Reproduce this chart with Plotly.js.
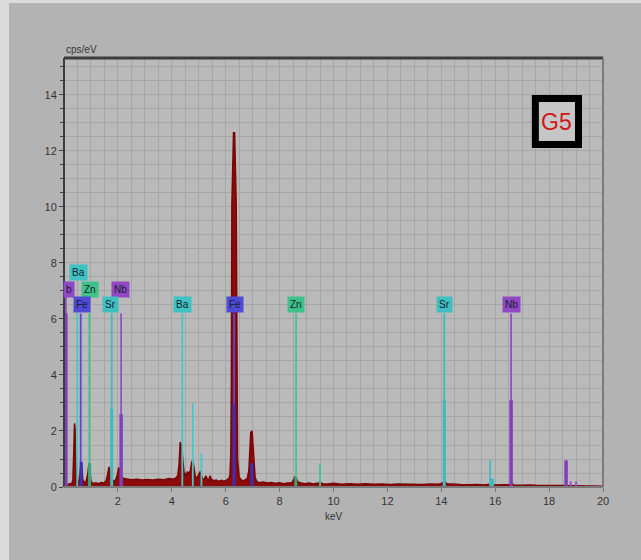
<!DOCTYPE html>
<html>
<head>
<meta charset="utf-8">
<script src="https://cdn.plot.ly/plotly-3.0.1.min.js"></script>
<style>
  html, body { margin:0; padding:0; background:#dadada; width:641px; height:560px; overflow:hidden; }
  #chart { position:absolute; left:9px; top:3px; width:632px; height:557px; }
</style>
</head>
<body>
<div id="chart"></div>
<script>
// ---- spectrum (keV, cps/eV) ----
const specKeV = [0.00,0.08,0.15,0.22,0.28,0.33,0.36,0.39,0.41,0.43,0.46,0.50,0.55,0.59,0.63,0.66,0.70,0.76,0.82,0.88,0.93,0.96,1.00,1.08,1.18,1.28,1.38,1.48,1.56,1.62,1.67,1.71,1.76,1.84,1.92,1.98,2.03,2.08,2.14,2.22,2.35,2.50,2.70,2.90,3.10,3.30,3.50,3.70,3.90,4.05,4.15,4.22,4.27,4.31,4.36,4.40,4.45,4.52,4.58,4.63,4.69,4.74,4.78,4.82,4.87,4.93,4.99,5.05,5.09,5.14,5.20,5.26,5.31,5.37,5.42,5.47,5.55,5.65,5.75,5.85,5.95,6.05,6.12,6.16,6.19,6.21,6.23,6.29,6.33,6.39,6.41,6.44,6.50,6.58,6.65,6.72,6.80,6.86,6.90,6.93,6.98,7.01,7.05,7.09,7.15,7.25,7.40,7.55,7.70,7.85,8.00,8.15,8.30,8.45,8.52,8.57,8.62,8.68,8.80,8.95,9.10,9.25,9.40,9.50,9.60,9.80,10.0,10.3,10.6,10.9,11.2,11.5,11.8,12.1,12.4,12.7,13.0,13.3,13.6,13.9,14.05,14.12,14.20,14.40,14.70,15.00,15.30,15.60,15.80,16.00,16.30,16.55,16.62,16.70,17.00,17.30,17.60,17.90,18.20,18.50,18.80,19.10,19.40,19.70,20.00];
const specCps = [0.05,0.10,0.08,0.12,0.10,0.25,1.20,2.27,2.10,1.00,0.25,0.15,0.20,0.45,0.85,0.70,0.25,0.15,0.20,0.45,0.85,0.60,0.20,0.12,0.15,0.12,0.16,0.14,0.22,0.45,0.72,0.55,0.30,0.20,0.25,0.45,0.70,0.55,0.35,0.30,0.28,0.26,0.28,0.25,0.27,0.25,0.28,0.26,0.30,0.28,0.32,0.40,0.80,1.60,1.50,0.90,0.55,0.40,0.55,0.45,0.60,0.90,0.95,0.70,0.40,0.30,0.45,0.55,0.45,0.30,0.25,0.40,0.30,0.25,0.40,0.28,0.22,0.25,0.20,0.24,0.20,0.25,0.30,0.45,1.20,3.70,10.10,12.65,12.65,10.10,3.70,1.00,0.35,0.25,0.22,0.25,0.30,0.60,1.20,1.95,2.00,1.50,0.80,0.35,0.20,0.15,0.18,0.14,0.16,0.13,0.15,0.12,0.14,0.15,0.25,0.37,0.30,0.18,0.14,0.12,0.14,0.11,0.13,0.16,0.12,0.11,0.13,0.10,0.12,0.10,0.12,0.10,0.11,0.09,0.11,0.10,0.11,0.09,0.11,0.10,0.14,0.20,0.12,0.10,0.09,0.08,0.09,0.07,0.10,0.07,0.08,0.09,0.12,0.07,0.06,0.07,0.05,0.06,0.05,0.05,0.04,0.05,0.04,0.04,0.03];

// ---- element marker lines ----
const baLineKeV = [0.49, 4.39, 4.78, 5.10];   const baLineH = [6.2, 6.2, 3.0, 1.2];
const feLineKeV = [0.62, 6.31];               const feLineH = [6.2, 6.2];
const feBarKeV  = [0.64, 6.31, 6.97];         const feBarH  = [0.9, 3.0, 0.85];
const znLineKeV = [0.94, 8.61, 9.50];         const znLineH = [6.2, 6.2, 0.85];
const znBarKeV  = [0.95, 8.60];               const znBarH  = [0.85, 0.35];
const srLineKeV = [1.77, 14.11, 15.81];       const srLineH = [6.2, 6.2, 0.95];
const srBarKeV  = [1.77, 14.11, 15.90];       const srBarH  = [2.8, 3.1, 0.3];
const nbLineKeV = [0.07, 2.12, 16.59, 18.63, 18.80, 19.00]; const nbLineH = [6.9, 6.2, 6.2, 0.95, 0.2, 0.2];
const nbBarKeV  = [0.07, 2.12, 16.59, 18.63]; const nbBarH  = [6.2, 2.6, 3.1, 0.95];

// ---- element labels ----
const labelText = ["Ba", "b", "Zn", "Nb", "Fe", "Sr", "Ba", "Fe", "Zn", "Sr", "Nb"];
const labelKeV  = [0.55, 0.17, 0.95, 2.08, 0.65, 1.72, 4.41, 6.33, 8.60, 14.11, 16.61];
const labelY    = [7.66, 7.05, 7.05, 7.05, 6.52, 6.52, 6.52, 6.52, 6.52, 6.52, 6.52];
const labelEl   = ["Ba", "Nb", "Zn", "Nb", "Fe", "Sr", "Ba", "Fe", "Zn", "Sr", "Nb"];

const xTicks = [2, 4, 6, 8, 10, 12, 14, 16, 18, 20];
const yTicks = [0, 2, 4, 6, 8, 10, 12, 14];

const boxColor  = {Ba:"#3fc2c2", Nb:"#9048c4", Zn:"#3fc28a", Fe:"#4e4ad6", Sr:"#3fbfc0"};
const lineColor = {Ba:"#45c8c8", Nb:"#9050c8", Zn:"#40c490", Fe:"#5a48d8", Sr:"#3cbcc0"};

function stems(keVs, hs) {
  const x = [], y = [];
  keVs.forEach((k, i) => { x.push(k, k, null); y.push(0, hs[i], null); });
  return {x, y};
}
function stemTrace(keVs, hs, color, width) {
  const s = stems(keVs, hs);
  return {x: s.x, y: s.y, type: "scatter", mode: "lines", line: {color: color, width: width},
          hoverinfo: "skip", showlegend: false, cliponaxis: true};
}

const traces = [
  {x: specKeV, y: specCps, type: "scatter", mode: "lines", fill: "tozeroy",
   fillcolor: "#8c0b0b", line: {color: "#7a0505", width: 1.5}, showlegend: false},
  stemTrace(baLineKeV, baLineH, lineColor.Ba, 1.8),
  stemTrace(feLineKeV, feLineH, lineColor.Fe, 1.8),
  stemTrace(feBarKeV, feBarH, "#3a30b8", 3),
  stemTrace(znLineKeV, znLineH, lineColor.Zn, 1.8),
  stemTrace(znBarKeV, znBarH, "#30a878", 3),
  stemTrace(srLineKeV, srLineH, lineColor.Sr, 1.8),
  stemTrace(srBarKeV, srBarH, lineColor.Sr, 3),
  stemTrace(nbLineKeV, nbLineH, lineColor.Nb, 1.8),
  stemTrace(nbBarKeV, nbBarH, "#8040b8", 3.5)
];

const annotations = labelText.map((t, i) => ({
  x: labelKeV[i], y: labelY[i], xref: "x", yref: "y", text: t, showarrow: false,
  bgcolor: boxColor[labelEl[i]], borderpad: 2,
  font: {family: "Liberation Sans, Arial, sans-serif", size: 10, color: "#14202e"}
}));
annotations.push(
  {x: 0, y: 1, xref: "paper", yref: "paper", xanchor: "left", yanchor: "bottom", yshift: 1,
   text: "cps/eV", showarrow: false, font: {family: "Liberation Sans, Arial, sans-serif", size: 10, color: "#333"}},
  {x: 10, y: 0, xref: "x", yref: "paper", xanchor: "center", yanchor: "top", yshift: -22,
   text: "keV", showarrow: false, font: {family: "Liberation Sans, Arial, sans-serif", size: 10, color: "#333"}},
  {x: 18.29, y: 13.05, xref: "x", yref: "y", text: "G5", showarrow: false,
   font: {family: "Liberation Sans, Arial, sans-serif", size: 23, color: "#d01515"}}
);

const gridC = "#a6a6a6";
const layout = {
  width: 632, height: 557,
  margin: {l: 55, r: 38, t: 55, b: 73},
  paper_bgcolor: "#b3b3b3",
  plot_bgcolor: "#bababa",
  showlegend: false,
  xaxis: {
    range: [0, 20], tickvals: xTicks, ticktext: xTicks.map(String),
    showgrid: true, gridcolor: gridC, gridwidth: 1, zeroline: false,
    ticks: "outside", ticklen: 4, tickcolor: "#777",
    minor: {dtick: 0.5, showgrid: true, gridcolor: gridC, ticks: "", ticklen: 2},
    tickfont: {family: "Liberation Sans, Arial, sans-serif", size: 11, color: "#333"},
    showline: false
  },
  yaxis: {
    range: [0, 15.32], tickvals: yTicks, ticktext: yTicks.map(String),
    showgrid: true, gridcolor: gridC, gridwidth: 1, zeroline: false,
    ticks: "outside", ticklen: 4, tickcolor: "#444",
    minor: {dtick: 0.5, showgrid: true, gridcolor: gridC, ticks: "outside", ticklen: 3, tickcolor: "#444"},
    tickfont: {family: "Liberation Sans, Arial, sans-serif", size: 11, color: "#333"},
    showline: false
  },
  shapes: [
    {type: "line", xref: "paper", yref: "paper", x0: 0, x1: 1, y0: 1, y1: 1, line: {color: "#3c3c3c", width: 3}},
    {type: "line", xref: "paper", yref: "paper", x0: 0, x1: 0, y0: 0, y1: 1, line: {color: "#3c3c3c", width: 2}},
    {type: "line", xref: "paper", yref: "paper", x0: 1, x1: 1, y0: 0, y1: 1, line: {color: "#7a7a7a", width: 2}},
    {type: "line", xref: "paper", yref: "paper", x0: 0, x1: 1, y0: 0, y1: 0, line: {color: "#7a7a7a", width: 2}},
    {type: "rect", xref: "x", yref: "y", x0: 17.49, x1: 19.09, y0: 12.23, y1: 13.875,
     fillcolor: "#c6c6c6", line: {color: "#000", width: 7}}
  ],
  annotations: annotations
};

Plotly.newPlot("chart", traces, layout, {displayModeBar: false, staticPlot: true});
</script>
</body>
</html>
